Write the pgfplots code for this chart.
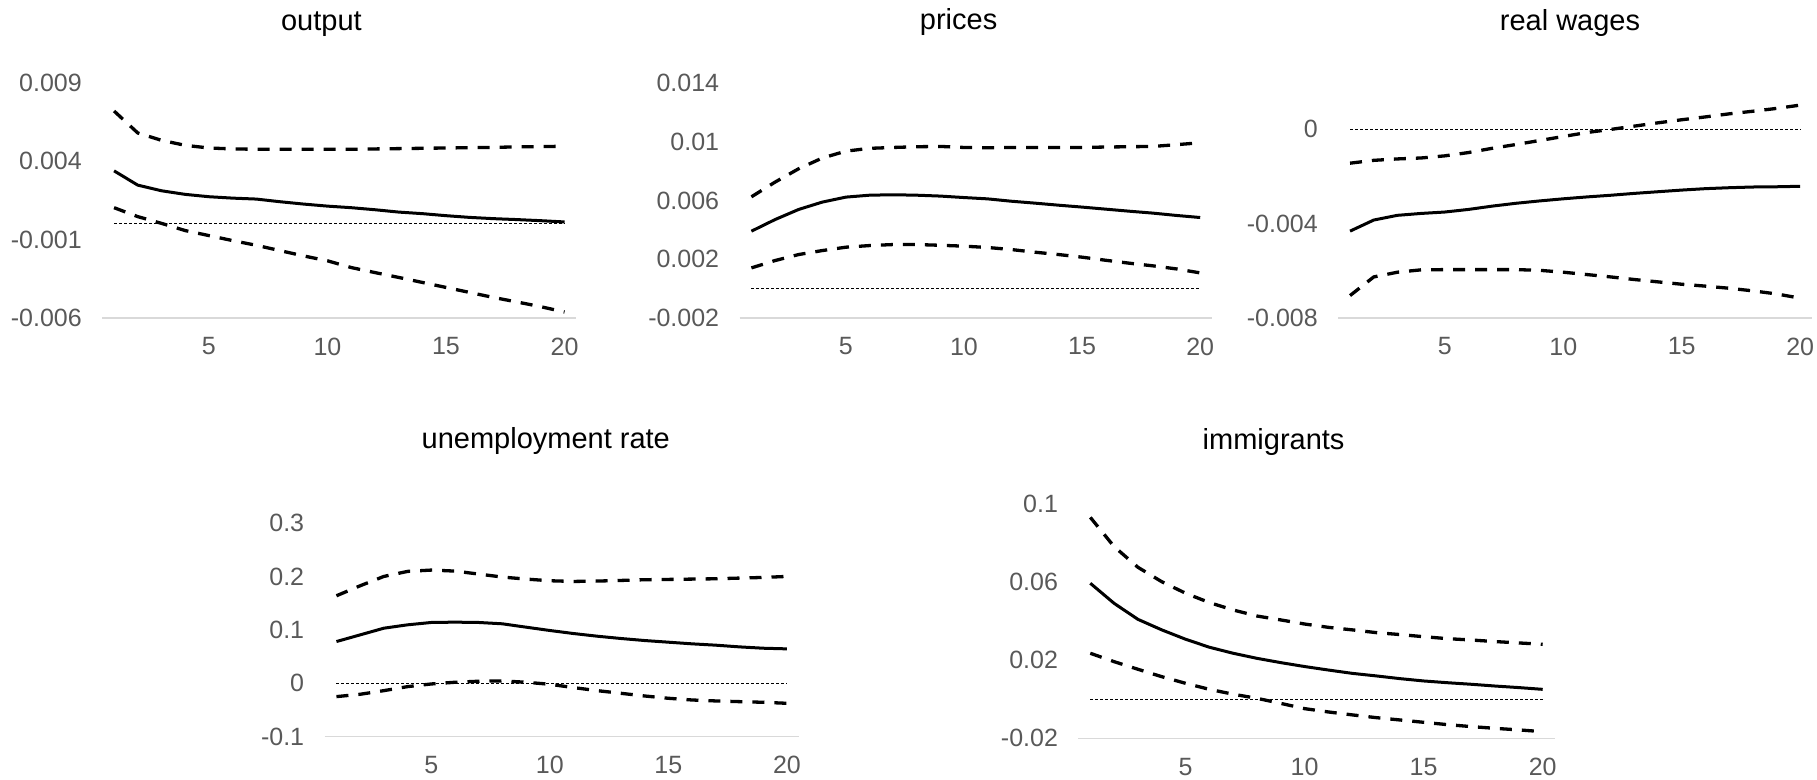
\documentclass[border=0pt]{standalone}
\usepackage{fontspec}
\setmainfont{Liberation Sans}
\usepackage{pgfplots}
\usepackage{pgfplotstable}
\pgfplotsset{compat=1.18}
\definecolor{ticktxt}{HTML}{595959}
\definecolor{axgray}{HTML}{D9D9D9}

\pgfplotstableread{
x sol up lo
1 0.00339 0.00721 0.00104
2 0.00248 0.00581 0.00047
3 0.00212 0.00534 0.00004
4 0.00189 0.00502 -0.00042
5 0.00174 0.00485 -0.00074
6 0.00165 0.00479 -0.00106
7 0.00159 0.00477 -0.00136
8 0.00142 0.00477 -0.00170
9 0.00127 0.00477 -0.00204
10 0.00114 0.00477 -0.00235
11 0.00104 0.00477 -0.00278
12 0.00091 0.00479 -0.00310
13 0.00076 0.00481 -0.00341
14 0.00066 0.00483 -0.00373
15 0.00053 0.00485 -0.00405
16 0.00042 0.00487 -0.00437
17 0.00034 0.00489 -0.00469
18 0.00028 0.00492 -0.00498
19 0.00021 0.00494 -0.00528
20 0.00013 0.00496 -0.00562
}\tOutput

\pgfplotstableread{
x sol up lo
1 0.00391 0.00625 0.00141
2 0.00470 0.00725 0.00191
3 0.00539 0.00816 0.00232
4 0.00589 0.00889 0.00259
5 0.00623 0.00936 0.00282
6 0.00636 0.00955 0.00293
7 0.00639 0.00961 0.00300
8 0.00636 0.00966 0.00300
9 0.00630 0.00968 0.00295
10 0.00620 0.00961 0.00289
11 0.00611 0.00959 0.00280
12 0.00595 0.00961 0.00266
13 0.00582 0.00961 0.00248
14 0.00568 0.00961 0.00232
15 0.00555 0.00961 0.00214
16 0.00541 0.00964 0.00193
17 0.00527 0.00966 0.00173
18 0.00514 0.00968 0.00155
19 0.00498 0.00980 0.00134
20 0.00484 0.00993 0.00107
}\tPrices

\pgfplotstableread{
x sol up lo
1 -0.00432 -0.00144 -0.00705
2 -0.00385 -0.00132 -0.00626
3 -0.00365 -0.00126 -0.00606
4 -0.00357 -0.00122 -0.00596
5 -0.00351 -0.00113 -0.00595
6 -0.00340 -0.00099 -0.00595
7 -0.00326 -0.00081 -0.00595
8 -0.00314 -0.00065 -0.00595
9 -0.00304 -0.00048 -0.00598
10 -0.00295 -0.00031 -0.00606
11 -0.00287 -0.00014 -0.00616
12 -0.00280 -0.00001 -0.00626
13 -0.00272 0.00013 -0.00637
14 -0.00265 0.00027 -0.00647
15 -0.00258 0.00040 -0.00657
16 -0.00252 0.00052 -0.00665
17 -0.00248 0.00065 -0.00674
18 -0.00245 0.00076 -0.00685
19 -0.00244 0.00088 -0.00698
20 -0.00242 0.00102 -0.00716
}\tWages

\pgfplotstableread{
x sol up lo
1 0.0781 0.1638 -0.0250
2 0.0906 0.1825 -0.0206
3 0.1031 0.2000 -0.0138
4 0.1094 0.2094 -0.0063
5 0.1138 0.2119 -0.0013
6 0.1144 0.2100 0.0019
7 0.1138 0.2044 0.0038
8 0.1113 0.1988 0.0044
9 0.1050 0.1950 0.0019
10 0.0988 0.1919 -0.0019
11 0.0931 0.1906 -0.0081
12 0.0881 0.1913 -0.0138
13 0.0838 0.1925 -0.0188
14 0.0800 0.1938 -0.0238
15 0.0769 0.1944 -0.0281
16 0.0738 0.1950 -0.0313
17 0.0713 0.1956 -0.0331
18 0.0681 0.1969 -0.0344
19 0.0656 0.1981 -0.0356
20 0.0644 0.2000 -0.0375
}\tUnemp

\pgfplotstableread{
x sol up lo
1 0.0595 0.0933 0.0236
2 0.0492 0.0783 0.0193
3 0.0410 0.0677 0.0154
4 0.0356 0.0603 0.0116
5 0.0308 0.0544 0.0082
6 0.0267 0.0496 0.0051
7 0.0236 0.0458 0.0026
8 0.0210 0.0427 0.0005
9 0.0188 0.0407 -0.0021
10 0.0168 0.0386 -0.0048
11 0.0150 0.0369 -0.0065
12 0.0133 0.0356 -0.0080
13 0.0120 0.0342 -0.0094
14 0.0106 0.0332 -0.0106
15 0.0094 0.0321 -0.0118
16 0.0085 0.0311 -0.0130
17 0.0077 0.0304 -0.0140
18 0.0068 0.0296 -0.0149
19 0.0060 0.0289 -0.0157
20 0.0051 0.0282 -0.0166
}\tImm

\pgfplotsset{
  irf/.style={
    scale only axis,
    anchor=south west,
    xmin=0.5, xmax=20.5,
    axis x line*=bottom, axis y line*=left,
    x axis line style={draw=axgray, line width=0.6pt, -},
    y axis line style={draw=none},
    major tick length=0pt,
    scaled y ticks=false, scaled x ticks=false,
    xtick={5,10,15,20},
    xticklabels={5,10,15,20},
    tick label style={font=\fontsize{12.5}{14}\selectfont, text=ticktxt},
    xticklabel style={yshift=-6.3pt},
    yticklabel style={xshift=-6.7pt},
    clip=false,
  },
  sol/.style={black, line width=1.5pt, line join=round},
  band/.style={black, line width=1.65pt, dash pattern=on 6pt off 5pt, line cap=butt, line join=round},
  zero/.style={black, line width=0.5pt, dash pattern=on 1.5pt off 1pt},
}

\begin{document}
\begin{tikzpicture}
\useasboundingbox (0,0) rectangle (908.5pt,390pt);

% output
\begin{axis}[irf, at={(51.1pt,231pt)}, width=237.1pt, height=117.5pt,
  ymin=-0.006, ymax=0.009, ytick={-0.006,-0.001,0.004,0.009},
  yticklabels={-0.006,-0.001,0.004,0.009}]
\addplot[zero] coordinates {(1,0) (20,0)};
\addplot[band] table[x=x,y=up] {\tOutput};
\addplot[band] table[x=x,y=lo] {\tOutput};
\addplot[sol] table[x=x,y=sol] {\tOutput};
\end{axis}

% prices
\begin{axis}[irf, at={(369.8pt,231pt)}, width=236.2pt, height=117.5pt,
  ymin=-0.002, ymax=0.014, ytick={-0.002,0.002,0.006,0.01,0.014},
  yticklabels={-0.002,0.002,0.006,0.01,0.014}]
\addplot[zero] coordinates {(1,0) (20,0)};
\addplot[band] table[x=x,y=up] {\tPrices};
\addplot[band] table[x=x,y=lo] {\tPrices};
\addplot[sol] table[x=x,y=sol] {\tPrices};
\end{axis}

% real wages
\begin{axis}[irf, at={(669.1pt,231pt)}, width=236.9pt, height=118pt,
  ymin=-0.008, ymax=0.002, ytick={-0.008,-0.004,0},
  yticklabels={-0.008,-0.004,0}]
\addplot[zero] coordinates {(1,0) (20,0)};
\addplot[band] table[x=x,y=up] {\tWages};
\addplot[band] table[x=x,y=lo] {\tWages};
\addplot[sol] table[x=x,y=sol] {\tWages};
\end{axis}

% unemployment rate
\begin{axis}[irf, at={(162.3pt,21.65pt)}, width=237.1pt, height=120.2pt,
  ymin=-0.1, ymax=0.35, ytick={-0.1,0,0.1,0.2,0.3},
  yticklabels={-0.1,0,0.1,0.2,0.3}]
\addplot[zero] coordinates {(1,0) (20,0)};
\addplot[band] table[x=x,y=up] {\tUnemp};
\addplot[band] table[x=x,y=lo] {\tUnemp};
\addplot[sol] table[x=x,y=sol] {\tUnemp};
\end{axis}

% immigrants
\begin{axis}[irf, at={(539.2pt,20.85pt)}, width=238.1pt, height=117pt,
  ymin=-0.02, ymax=0.1, ytick={-0.02,0.02,0.06,0.1},
  yticklabels={-0.02,0.02,0.06,0.1}]
\addplot[zero] coordinates {(1,0) (20,0)};
\addplot[band] table[x=x,y=up] {\tImm};
\addplot[band] table[x=x,y=lo] {\tImm};
\addplot[sol] table[x=x,y=sol] {\tImm};
\end{axis}

\begin{scope}[every node/.style={anchor=base, inner sep=0pt, font=\fontsize{14.5}{16}\selectfont}]
\node at (160.7pt,374.65pt) {output};
\node at (479.3pt,375pt) {prices};
\node at (785pt,374.65pt) {real wages};
\node at (272.9pt,165.85pt) {unemployment rate};
\node at (636.8pt,165.35pt) {immigrants};
\end{scope}
\end{tikzpicture}
\end{document}
